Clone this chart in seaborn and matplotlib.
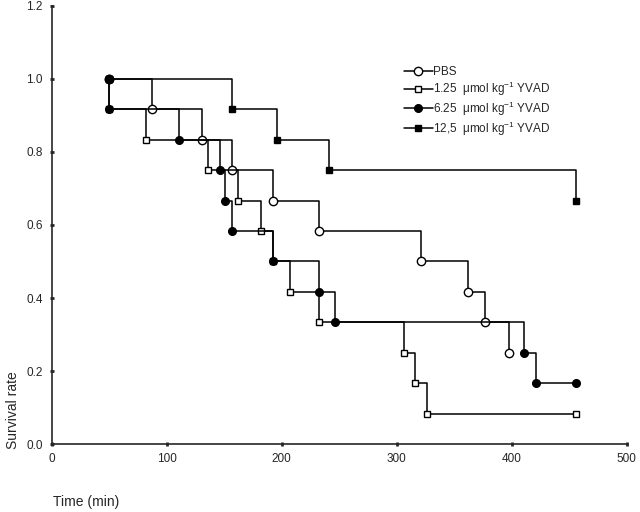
import matplotlib
matplotlib.use("Agg")
import matplotlib.pyplot as plt
import seaborn as sns

# survival data (time in min, fraction surviving)
pbs_t = [50, 50, 87, 131, 157, 192, 232, 321, 362, 377, 398]
pbs_s = [1.0, 1.0, 0.917, 0.833, 0.75, 0.667, 0.583, 0.5, 0.417, 0.333, 0.25]

yvad125_t = [50, 50, 82, 136, 162, 182, 192, 207, 232, 306, 316, 326, 456]
yvad125_s = [1.0, 0.917, 0.833, 0.75, 0.667, 0.583, 0.5, 0.417, 0.333, 0.25, 0.167, 0.083, 0.083]

yvad625_t = [50, 50, 111, 146, 151, 157, 192, 232, 246, 411, 421, 456]
yvad625_s = [1.0, 0.917, 0.833, 0.75, 0.667, 0.583, 0.5, 0.417, 0.333, 0.25, 0.167, 0.167]

yvad125b_t = [50, 157, 196, 241, 456]
yvad125b_s = [1.0, 0.917, 0.833, 0.75, 0.667]

labels = ["PBS",
          "1.25  \u03bcmol kg$^{-1}$ YVAD",
          "6.25  \u03bcmol kg$^{-1}$ YVAD",
          "12,5  \u03bcmol kg$^{-1}$ YVAD"]

x_ticks = [0, 100, 200, 300, 400, 500]
y_ticks = [0.0, 0.2, 0.4, 0.6, 0.8, 1.0, 1.2]


def main():
    sns.set_style("ticks")
    plt.rcParams['font.family'] = ['Liberation Sans', 'DejaVu Sans']
    plt.rcParams['mathtext.fontset'] = 'custom'
    plt.rcParams['mathtext.rm'] = 'Liberation Sans'

    fig = plt.figure(figsize=(6.4, 5.12), dpi=100)
    ax = fig.add_axes([0.081, 0.1328, 0.898, 0.8555])

    common = dict(estimator=None, sort=False, drawstyle="steps-post",
                  color="black", linewidth=1.1, ax=ax)
    # order matters so the filled markers end up on top
    sns.lineplot(x=pbs_t, y=pbs_s, marker="o", markersize=6,
                 markerfacecolor="white", markeredgecolor="black",
                 markeredgewidth=1.0, label=labels[0], **common)
    sns.lineplot(x=yvad125_t, y=yvad125_s, marker="s", markersize=4.3,
                 markerfacecolor="white", markeredgecolor="black",
                 markeredgewidth=1.0, label=labels[1], **common)
    sns.lineplot(x=yvad125b_t, y=yvad125b_s, marker="s", markersize=4.3,
                 markerfacecolor="black", markeredgecolor="black",
                 markeredgewidth=1.0, label=labels[3], **common)
    sns.lineplot(x=yvad625_t, y=yvad625_s, marker="o", markersize=5.5,
                 markerfacecolor="black", markeredgecolor="black",
                 markeredgewidth=1.0, label=labels[2], **common)

    ax.set_xlim(0, 500)
    ax.set_ylim(0, 1.2)
    ax.set_xticks(x_ticks)
    ax.set_yticks(y_ticks)
    ax.set_yticklabels([f"{v:.1f}" for v in y_ticks])
    ax.tick_params(direction="inout", length=3, width=2, labelsize=8.5,
                   pad=5)
    sns.despine(ax=ax)
    for sp in ax.spines.values():
        sp.set_linewidth(1.2)

    ax.set_xlabel("Time (min)", fontsize=10, loc="left")
    ax.xaxis.set_label_coords(0.002, -0.117)
    ax.set_ylabel("Survival rate", fontsize=10)
    ax.yaxis.set_label_coords(-0.056, 0.078)

    handles, labs = ax.get_legend_handles_labels()
    order = [labels.index(l) for l in labs]
    pairs = sorted(zip(order, handles, labs))
    ax.legend([p[1] for p in pairs], [p[2] for p in pairs],
              loc="upper left", bbox_to_anchor=(0.594, 0.888),
              frameon=False, fontsize=8.5, handlelength=2.45,
              handletextpad=0.0, labelspacing=0.15, numpoints=1)

    plt.savefig("out.png", dpi=100)


if __name__ == "__main__":
    main()
